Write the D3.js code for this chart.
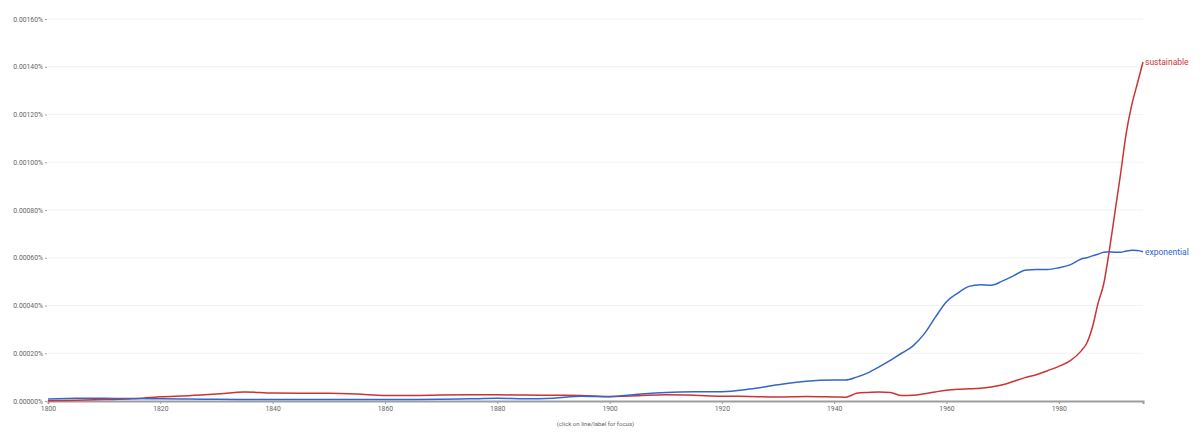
<!DOCTYPE html>
<html>
<head>
<meta charset="utf-8">
<script src="https://cdn.jsdelivr.net/npm/d3@7"></script>
<style>
  html, body { margin: 0; padding: 0; background: #fff; }
  svg { display: block; font-family: Roboto, "Open Sans", sans-serif; }
</style>
</head>
<body>
<svg id="chart" width="1200" height="443"></svg>
<script>
// Values are in units of 0.00001 %
const years = [1800,1805,1810,1815,1820,1825,1830,1835,1840,1845,1850,1855,1860,1865,1870,1875,1880,1885,1890,1895,
  1900,1905,1910,1915,1920,1925,1930,1935,1940,1942,1944,1946,1948,1950,1952,1954,1956,1958,1960,1962,1964,1966,1968,
  1970,1972,1974,1976,1978,1980,1982,1984,1985,1986,1987,1988,1989,1990,1991,1992,1993,1994,1995];

const exponential = [0.8,1.1,1.2,1.0,0.9,0.8,0.7,0.6,0.6,0.6,0.6,0.6,0.6,0.6,0.7,0.9,1.1,0.9,1.2,2.0,
  1.8,2.8,3.6,3.9,3.9,5.0,6.8,8.3,8.8,8.8,10.0,11.8,14.3,17.0,20.0,23.0,28.0,35.0,41.6,45.2,48.0,48.7,48.5,
  50.3,52.5,54.8,55.1,55.1,55.8,57.0,59.5,60.0,60.8,61.5,62.3,62.5,62.3,62.3,62.8,63.1,63.0,62.5];

const sustainable = [0.1,0.3,0.6,0.9,1.8,2.2,2.9,3.8,3.3,3.2,3.2,2.9,2.3,2.3,2.5,2.6,2.6,2.5,2.4,2.3,
  1.9,2.2,2.6,2.4,2.0,1.9,1.7,1.9,1.7,1.6,3.2,3.6,3.8,3.6,2.3,2.4,3.0,3.8,4.5,4.9,5.1,5.3,5.9,
  6.8,8.3,9.8,11.0,12.7,14.5,16.8,21.0,24.3,31.0,41.0,49.0,63.0,79.0,95.0,112.0,124.0,133.0,142.0];

const seriesNames = ["sustainable", "exponential"];
const seriesColors = ["#cc3333", "#3366cc"];
const yTicks = [0, 20, 40, 60, 80, 100, 120, 140, 160];
const yTickLabels = ["0.00000%","0.00020%","0.00040%","0.00060%","0.00080%","0.00100%","0.00120%","0.00140%","0.00160%"];
const xTicks = [1800, 1820, 1840, 1860, 1880, 1900, 1920, 1940, 1960, 1980];
const caption = "(click on line/label for focus)";

const svg = d3.select("#chart");
const margin = {left: 48, right: 57, top: 19, bottom: 42};
const W = 1200, H = 443;

const x = d3.scaleLinear().domain([1800, 1995]).range([margin.left, W - margin.right]);
const y = d3.scaleLinear().domain([0, 160]).range([H - margin.bottom, margin.top]);

// gridlines
svg.append("g").selectAll("line").data(yTicks.slice(1)).join("line")
  .attr("x1", x(1800)).attr("x2", x(1995))
  .attr("y1", d => y(d)).attr("y2", d => y(d))
  .attr("stroke", "#f2f2f2").attr("stroke-width", 1);

// y axis labels with small dash ticks
const yAxis = d3.axisLeft(y).tickValues(yTicks)
  .tickFormat((d, i) => yTickLabels[i]).tickSize(0).tickPadding(0);
const gy = svg.append("g").attr("transform", `translate(${margin.left},0)`).call(yAxis);
gy.select(".domain").remove();
gy.selectAll(".tick text").attr("x", -5).attr("font-size", 6.8).attr("fill", "#666")
  .attr("font-family", "Roboto, sans-serif");
gy.selectAll(".tick").append("line")
  .attr("x1", -3).attr("x2", -1).attr("stroke", "#888").attr("stroke-width", 0.8);

// x axis
const xAxis = d3.axisBottom(x).tickValues(xTicks).tickFormat(d3.format("d")).tickSize(3).tickPadding(2.5);
const gx = svg.append("g").attr("transform", `translate(0,${y(0)})`).call(xAxis);
gx.select(".domain").attr("stroke", "#9e9e9e").attr("stroke-width", 2);
gx.selectAll(".tick line").attr("stroke", "#9e9e9e");
gx.selectAll("text").attr("font-size", 6.8).attr("fill", "#666").attr("font-family", "Roboto, sans-serif");

// caption
svg.append("text").attr("x", (x(1800) + x(1995)) / 2).attr("y", 426)
  .attr("text-anchor", "middle").attr("font-size", 6.1).attr("fill", "#666").text(caption);

// lines
const line = d3.line().x(d => x(d[0])).y(d => y(d[1])).curve(d3.curveMonotoneX);
const data = [sustainable, exponential];
data.forEach((vals, i) => {
  const pts = years.map((yr, j) => [yr, vals[j]]);
  svg.append("path").datum(pts)
    .attr("fill", "none").attr("stroke", seriesColors[i]).attr("stroke-width", 1.5)
    .attr("stroke-linejoin", "round").attr("d", line);
  const last = pts[pts.length - 1];
  svg.append("text").attr("x", x(last[0]) + 2).attr("y", y(last[1]))
    .attr("dy", "0.35em").attr("font-size", 8.5).attr("fill", seriesColors[i])
    .text(seriesNames[i]);
});
</script>
</body>
</html>
